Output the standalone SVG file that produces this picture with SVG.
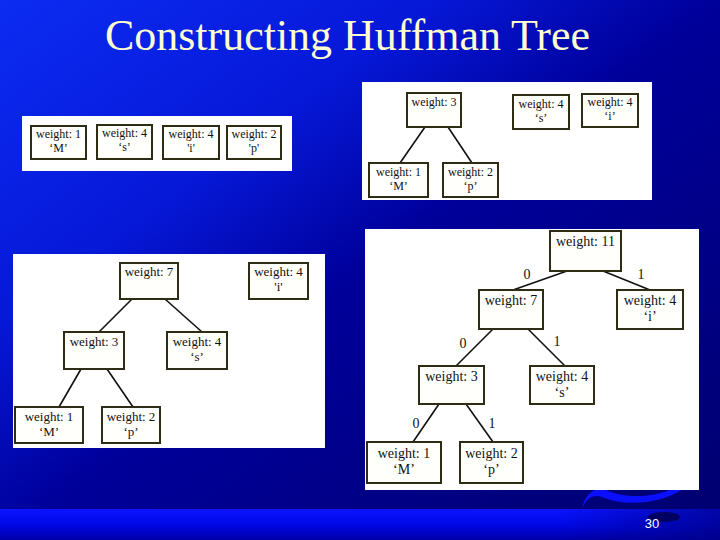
<svg xmlns="http://www.w3.org/2000/svg" width="720" height="540" viewBox="0 0 720 540">
<defs>
<linearGradient id="bg" x1="0" y1="0" x2="1" y2="1">
<stop offset="0" stop-color="#0c2cf2"/>
<stop offset="0.3" stop-color="#0618d8"/>
<stop offset="0.5" stop-color="#00009a"/>
<stop offset="1" stop-color="#00006e"/>
</linearGradient>
<linearGradient id="band" x1="0" y1="0" x2="0" y2="1">
<stop offset="0" stop-color="#0a14ff"/>
<stop offset="0.5" stop-color="#0008e6"/>
<stop offset="1" stop-color="#0000a8"/>
</linearGradient>
<linearGradient id="bandR" x1="0" y1="0" x2="1" y2="0">
<stop offset="0" stop-color="#000080" stop-opacity="0"/>
<stop offset="1" stop-color="#000080" stop-opacity="0.7"/>
</linearGradient>
</defs>
<style>
.panel{fill:#ffffff}
.box{fill:#fffffb;stroke:#2e2c14;stroke-width:2}
.edge{stroke:#111;stroke-width:1.6;fill:none}
.t{font-family:"Liberation Serif","Times New Roman","DejaVu Serif",serif;fill:#111;text-anchor:middle}
.s12{font-size:12px}
.s13{font-size:13px}
.s14{font-size:14px}
.lbl{font-family:"Liberation Serif","Times New Roman","DejaVu Serif",serif;font-size:14px;fill:#111;text-anchor:middle}
.title{font-family:"Liberation Serif","Times New Roman","DejaVu Serif",serif;font-size:44px;fill:#ffffd0}
</style>
<rect x="0" y="0" width="720" height="540" fill="url(#bg)"/>
<rect x="0" y="509" width="720" height="31" fill="url(#band)"/>
<rect x="560" y="509" width="160" height="31" fill="url(#bandR)"/>
<path d="M 582 509 C 586 498, 594 494, 602 497 C 625 507, 665 505, 690 484 L 684 482 C 662 498, 628 500, 606 490 C 594 486, 584 496, 582 509 Z" fill="#0a10ff"/>
<ellipse cx="664" cy="517" rx="16" ry="5" fill="#00004a" opacity="0.8"/>
<text class="title" x="105" y="50" textLength="485" lengthAdjust="spacingAndGlyphs">Constructing Huffman Tree</text>
<text x="652" y="528" font-family="Liberation Sans, Arial, sans-serif" font-size="13" fill="#ffffff" text-anchor="middle">30</text>

<rect class="panel" x="22" y="116" width="270" height="55"/>
<rect class="panel" x="362" y="82" width="290" height="118"/>
<rect class="panel" x="13" y="254" width="312" height="194"/>
<rect class="panel" x="365" y="229" width="334" height="261"/>

<g id="connectors">
<line class="edge" x1="425" y1="127" x2="400" y2="163"/>
<line class="edge" x1="448" y1="127" x2="472" y2="163"/>
<line class="edge" x1="132" y1="299" x2="99" y2="332"/>
<line class="edge" x1="165" y1="299" x2="202" y2="332"/>
<line class="edge" x1="81" y1="369" x2="59" y2="407"/>
<line class="edge" x1="107" y1="369" x2="133" y2="407"/>
<line class="edge" x1="567" y1="271" x2="513" y2="290"/>
<line class="edge" x1="603" y1="271" x2="650" y2="290"/>
<line class="edge" x1="493" y1="329" x2="456" y2="366"/>
<line class="edge" x1="528" y1="329" x2="565" y2="366"/>
<line class="edge" x1="439" y1="404" x2="413" y2="442"/>
<line class="edge" x1="466" y1="404" x2="493" y2="442"/>
<text class="lbl" x="527" y="279">0</text>
<text class="lbl" x="641" y="279">1</text>
<text class="lbl" x="463" y="348">0</text>
<text class="lbl" x="557" y="346">1</text>
<text class="lbl" x="416" y="428">0</text>
<text class="lbl" x="492" y="428">1</text>
</g>

<g id="p1-M"><rect class="box" x="31" y="126" width="55" height="33"/><text class="t s12" x="58.5" y="138">weight: 1</text><text class="t s12" x="58.5" y="152">‘M’</text></g>
<g id="p1-s"><rect class="box" x="97" y="125" width="55" height="34"/><text class="t s12" x="124.5" y="137">weight: 4</text><text class="t s12" x="124.5" y="151">‘s’</text></g>
<g id="p1-i"><rect class="box" x="163" y="126" width="56" height="33"/><text class="t s12" x="191" y="138">weight: 4</text><text class="t s12" x="191" y="152">'i'</text></g>
<g id="p1-p"><rect class="box" x="227" y="126" width="54" height="33"/><text class="t s12" x="254" y="138">weight: 2</text><text class="t s12" x="254" y="152">'p'</text></g>

<g id="p2-3"><rect class="box" x="407" y="93" width="54" height="34"/><text class="t s12" x="434" y="106">weight: 3</text></g>
<g id="p2-s"><rect class="box" x="513" y="95" width="56" height="34"/><text class="t s12" x="541" y="108">weight: 4</text><text class="t s12" x="541" y="122">‘s’</text></g>
<g id="p2-i"><rect class="box" x="582" y="94" width="56" height="33"/><text class="t s12" x="610" y="106">weight: 4</text><text class="t s12" x="610" y="120">‘i’</text></g>
<g id="p2-M"><rect class="box" x="369" y="163" width="59" height="34"/><text class="t s12" x="398.5" y="176">weight: 1</text><text class="t s12" x="398.5" y="190">‘M’</text></g>
<g id="p2-p"><rect class="box" x="443" y="163" width="55" height="34"/><text class="t s12" x="470.5" y="176">weight: 2</text><text class="t s12" x="470.5" y="190">‘p’</text></g>

<g id="p3-7"><rect class="box" x="120" y="263" width="58" height="36"/><text class="t s13" x="149" y="276">weight: 7</text></g>
<g id="p3-i"><rect class="box" x="249" y="263" width="59" height="36"/><text class="t s13" x="278.5" y="276">weight: 4</text><text class="t s13" x="278.5" y="291">'i'</text></g>
<g id="p3-3"><rect class="box" x="64" y="332" width="60" height="37"/><text class="t s13" x="94" y="346">weight: 3</text></g>
<g id="p3-s"><rect class="box" x="167" y="332" width="60" height="37"/><text class="t s13" x="197" y="346">weight: 4</text><text class="t s13" x="197" y="361">‘s’</text></g>
<g id="p3-M"><rect class="box" x="15" y="407" width="68" height="36"/><text class="t s13" x="49" y="421">weight: 1</text><text class="t s13" x="49" y="436">‘M’</text></g>
<g id="p3-p"><rect class="box" x="102" y="407" width="58" height="36"/><text class="t s13" x="131" y="421">weight: 2</text><text class="t s13" x="131" y="436">‘p’</text></g>

<g id="p4-11"><rect class="box" x="550" y="231" width="71" height="40"/><text class="t s14" x="585.5" y="246">weight: 11</text></g>
<g id="p4-7"><rect class="box" x="479" y="290" width="64" height="39"/><text class="t s14" x="511" y="305">weight: 7</text></g>
<g id="p4-i"><rect class="box" x="617" y="290" width="66" height="39"/><text class="t s14" x="650" y="305">weight: 4</text><text class="t s14" x="650" y="321">‘i’</text></g>
<g id="p4-3"><rect class="box" x="419" y="366" width="65" height="38"/><text class="t s14" x="451.5" y="381">weight: 3</text></g>
<g id="p4-s"><rect class="box" x="530" y="366" width="64" height="38"/><text class="t s14" x="562" y="381">weight: 4</text><text class="t s14" x="562" y="397">‘s’</text></g>
<g id="p4-M"><rect class="box" x="367" y="442" width="74" height="41"/><text class="t s14" x="404" y="458">weight: 1</text><text class="t s14" x="404" y="474">‘M’</text></g>
<g id="p4-p"><rect class="box" x="460" y="442" width="63" height="41"/><text class="t s14" x="491.5" y="458">weight: 2</text><text class="t s14" x="491.5" y="474">‘p’</text></g>
</svg>
